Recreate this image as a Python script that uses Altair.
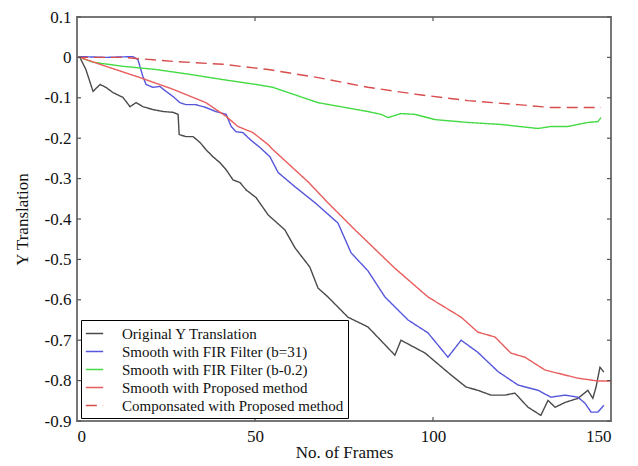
import altair as alt
import pandas as pd

series_names = [
    "Original Y Translation",
    "Smooth with FIR Filter (b=31)",
    "Smooth with FIR Filter (b-0.2)",
    "Smooth with Proposed method",
    "Componsated with Proposed method",
]
series_colors = ["#4a4a4a", "#5656dc", "#44da44", "#e85c5c", "#d84c4c"]

orig_x = [0, 0.8, 2.5, 4.5, 6.5, 8.1, 10.1, 12.9, 14.9, 16.6, 18.5, 21.3, 24.2, 27, 28.4, 28.7, 30.6,
          32.6, 34.6, 36.2, 38.2, 40.2, 41.9, 43.8, 45.8, 47.5, 50.3, 53.7, 58.4, 61.2, 65.4, 67.7,
          70.5, 76.1, 81.7, 89.3, 91, 97.8, 104.5, 109.3, 112.6, 116.3, 120.2, 123, 126.7, 130.3,
          132.3, 134.3, 137.1, 140.7, 143.5, 144.9, 145.8, 146.9, 148]
orig_y = [0, 0, -0.030, -0.084, -0.067, -0.074, -0.087, -0.099, -0.122, -0.112, -0.122, -0.129,
          -0.134, -0.136, -0.141, -0.191, -0.196, -0.196, -0.211, -0.228, -0.246, -0.261, -0.278,
          -0.303, -0.310, -0.328, -0.347, -0.390, -0.427, -0.471, -0.519, -0.571, -0.593, -0.643,
          -0.667, -0.737, -0.700, -0.732, -0.782, -0.816, -0.824, -0.836, -0.836, -0.831, -0.866,
          -0.886, -0.849, -0.866, -0.854, -0.844, -0.824, -0.844, -0.816, -0.767, -0.779]

fir31_x = [0, 0.8, 8.1, 15.7, 17.1, 18.5, 19.4, 21.3, 23.3, 25, 27, 28.9, 30.6, 33.4, 36.2, 39,
           41.9, 43.3, 44.7, 46.6, 48.6, 51.4, 54.2, 56.5, 61.2, 66.9, 73.3, 77, 81.7, 86.5, 93,
           98.6, 104.2, 107.9, 112.6, 118.3, 123.9, 129.5, 133.1, 137.1, 140.7, 142.7, 144.4,
           146.3, 148]
fir31_y = [0, 0.002, 0, 0.002, -0.005, -0.047, -0.067, -0.074, -0.072, -0.084, -0.097, -0.112,
           -0.117, -0.117, -0.124, -0.134, -0.141, -0.171, -0.184, -0.186, -0.203, -0.223, -0.246,
           -0.285, -0.320, -0.360, -0.410, -0.484, -0.528, -0.593, -0.650, -0.682, -0.742, -0.700,
           -0.730, -0.778, -0.811, -0.824, -0.841, -0.836, -0.841, -0.856, -0.878, -0.878, -0.861]

fir02_x = [0, 0.8, 4.5, 12.9, 22.2, 31.7, 41, 50.3, 55, 67.7, 81.7, 85.4, 87.4, 91, 94.9, 100.6,
           109.8, 119.1, 129.5, 133.1, 137.9, 143.5, 146.3, 147.2]
fir02_y = [0, 0, -0.012, -0.022, -0.030, -0.042, -0.055, -0.067, -0.074, -0.112, -0.134, -0.141,
           -0.149, -0.139, -0.141, -0.154, -0.161, -0.166, -0.176, -0.171, -0.171, -0.161, -0.159,
           -0.149]

prop_x = [0, 0.8, 8.1, 17.7, 27, 36.2, 41.9, 45.2, 49.4, 53.7, 55, 64.9, 70.5, 78.1, 89.3, 98.6,
          107.9, 112.6, 117.4, 121.9, 125.8, 131.5, 140.7, 146.3, 150]
prop_y = [0, 0, -0.022, -0.050, -0.079, -0.112, -0.146, -0.171, -0.186, -0.216, -0.228, -0.308,
          -0.360, -0.427, -0.522, -0.593, -0.643, -0.680, -0.692, -0.732, -0.742, -0.774, -0.794,
          -0.801, -0.801]

comp_x = [0, 12.9, 27, 41, 53.7, 67.7, 81.7, 95.8, 109.8, 123.9, 133.1, 142.7, 147.2]
comp_y = [0, 0, -0.010, -0.017, -0.030, -0.050, -0.074, -0.092, -0.107, -0.117, -0.124, -0.124,
          -0.124]

x_ticks = [0, 50, 100, 150]
y_ticks = [0.1, 0, -0.1, -0.2, -0.3, -0.4, -0.5, -0.6, -0.7, -0.8, -0.9]

rows = []
for name, xs, ys in zip(series_names,
                        [orig_x, fir31_x, fir02_x, prop_x, comp_x],
                        [orig_y, fir31_y, fir02_y, prop_y, comp_y]):
    for i, (a, b) in enumerate(zip(xs, ys)):
        rows.append({"series": name, "frame": a, "value": b, "order": i})
df = pd.DataFrame(rows)

W, H = 534, 404
FONT = "Liberation Serif"

xscale = alt.Scale(domain=[0, 150], nice=False, zero=False)
yscale = alt.Scale(domain=[-0.9, 0.1], nice=False, zero=False)

xaxis = alt.Axis(title="No. of Frames", values=x_ticks, ticks=False, domain=False,
                 grid=False, labelPadding=7, titlePadding=0,
                 labelFont=FONT, labelFontSize=17, labelColor="#111",
                 titleFont=FONT, titleFontSize=17, titleColor="#111", titleFontWeight="normal")
yaxis = alt.Axis(title="Y Translation", values=y_ticks, ticks=False, domain=False,
                 grid=False, labelPadding=6, titlePadding=13,
                 labelFont=FONT, labelFontSize=17, labelColor="#111",
                 titleFont=FONT, titleFontSize=17, titleColor="#111", titleFontWeight="normal",
                 labelExpr="datum.value == 0 ? '0' : replace(format(datum.value, '.1f'), '\u2212', '-')")

legend = alt.Legend(title=None, orient="none", legendX=4, legendY=303,
                    strokeColor="black", fillColor="white", padding=4, cornerRadius=0,
                    symbolType="stroke", symbolSize=300, symbolStrokeWidth=1.5,
                    labelFont=FONT, labelFontSize=15, labelColor="#111", rowPadding=0,
                    labelLimit=400, labelOffset=18)

lines = alt.Chart(df).mark_line(strokeWidth=1.4).encode(
    x=alt.X("frame:Q", scale=xscale, axis=xaxis),
    y=alt.Y("value:Q", scale=yscale, axis=yaxis),
    color=alt.Color("series:N", scale=alt.Scale(domain=series_names, range=series_colors),
                    legend=legend),
    strokeDash=alt.StrokeDash("series:N",
                              scale=alt.Scale(domain=series_names,
                                              range=[[1, 0], [1, 0], [1, 0], [1, 0], [11, 6]]),
                              legend=legend),
    order="order:Q",
)

ydf = pd.DataFrame({"value": y_ticks})
xdf = pd.DataFrame({"frame": x_ticks[1:-1]})

left_ticks = alt.Chart(ydf).mark_rule(color="#555", strokeWidth=1.2).encode(
    y=alt.Y("value:Q", scale=yscale, axis=yaxis), x=alt.value(0), x2=alt.value(4))
right_ticks = alt.Chart(ydf).mark_rule(color="#555", strokeWidth=1.2).encode(
    y=alt.Y("value:Q", scale=yscale, axis=yaxis), x=alt.value(W - 4), x2=alt.value(W))
top_ticks = alt.Chart(xdf).mark_rule(color="#555", strokeWidth=1.2).encode(
    x=alt.X("frame:Q", scale=xscale, axis=xaxis), y=alt.value(0), y2=alt.value(4))
bottom_ticks = alt.Chart(xdf).mark_rule(color="#555", strokeWidth=1.2).encode(
    x=alt.X("frame:Q", scale=xscale, axis=xaxis), y=alt.value(H - 4), y2=alt.value(H))

chart = alt.layer(lines, left_ticks, right_ticks, top_ticks, bottom_ticks).properties(
    width=W, height=H,
    background="white",
    padding={"left": 5, "top": 0, "right": 5, "bottom": 0},
).configure_view(
    stroke="#777", strokeWidth=2
)

chart.save("out.html", embed_options={"renderer": "svg", "actions": False})
